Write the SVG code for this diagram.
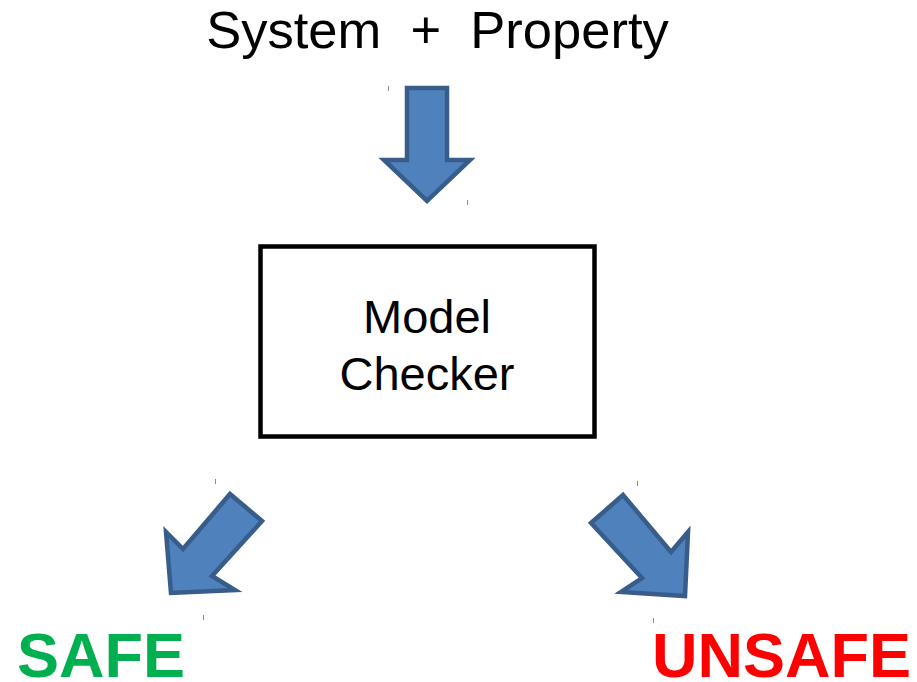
<svg xmlns="http://www.w3.org/2000/svg" width="917" height="682" viewBox="0 0 917 682">
<style>
.arrow{fill:#4f81bd;stroke:#385d8a;stroke-width:4.5;stroke-linejoin:miter}
.tick{stroke:#8090a8;stroke-width:1}
.t{font-family:"Liberation Sans",Arial,sans-serif;text-anchor:middle;fill:#000}
.res{font-family:"Liberation Sans",Arial,sans-serif;font-weight:bold;font-size:63px}
</style>
<rect width="917" height="682" fill="#fff"/>
<g id="title"><text class="t" x="437.5" y="48" font-size="52.5" xml:space="preserve">System  +  Property</text></g>
<g id="connectors">
<polygon class="arrow" points="407,88 447,88 447,160 470,160 427,201 384,160 407,160"/>
<polygon class="arrow" points="230,494 262,521 212,576 235,590 171,593 166,532 183,549"/>
<polygon class="arrow" points="591,523 623,495 671,552 688,532 685,596 621,592 642,578"/>
<line class="tick" x1="388.5" y1="86" x2="388.5" y2="91"/>
<line class="tick" x1="467.5" y1="200" x2="467.5" y2="205"/>
<line class="tick" x1="215.5" y1="479" x2="215.5" y2="484"/>
<line class="tick" x1="203.5" y1="615" x2="203.5" y2="620"/>
<line class="tick" x1="637.5" y1="481" x2="637.5" y2="486"/>
<line class="tick" x1="653.5" y1="618" x2="653.5" y2="623"/>
</g>
<g id="model-checker">
<rect x="260.5" y="246.5" width="334" height="190" fill="#fff" stroke="#000" stroke-width="4.5"/>
<text class="t" x="427" y="333" font-size="47">Model</text>
<text class="t" x="427" y="390" font-size="47">Checker</text>
</g>
<g id="safe"><text class="res" x="17" y="677" fill="#00b050">SAFE</text></g>
<g id="unsafe"><text class="res" x="652" y="677" fill="#ff0000">UNSAFE</text></g>
</svg>
